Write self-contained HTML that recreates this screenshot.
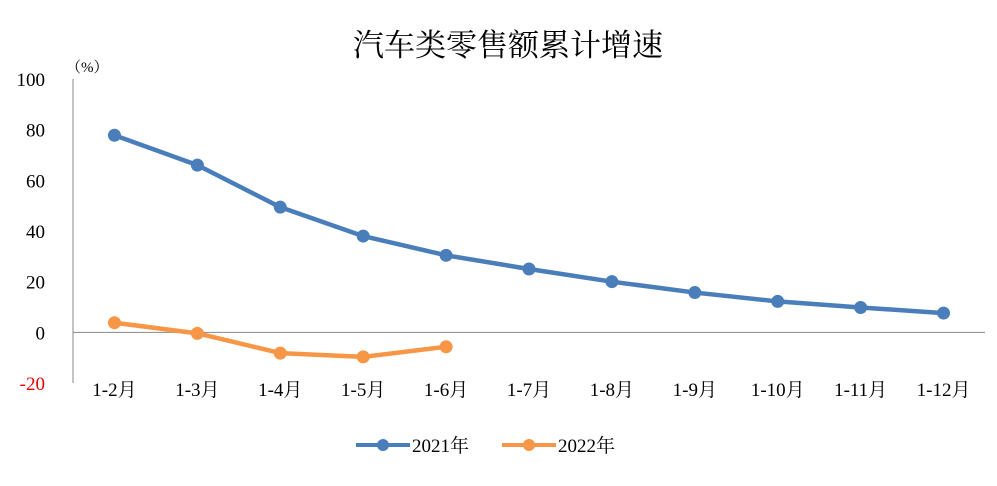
<!DOCTYPE html>
<html><head><meta charset="utf-8"><style>
body{margin:0;background:#fff;}
svg text{font-family:"Liberation Serif","Noto Serif CJK SC",serif;}
</style></head><body>
<svg id="chart" width="997" height="481" xmlns="http://www.w3.org/2000/svg">
<rect width="997" height="481" fill="#fff"/>
<text x="508" y="56" text-anchor="middle" font-size="31" fill="#000">汽车类零售额累计增速</text>
<text x="66" y="72" font-size="15" fill="#000">（%）</text>
<g id="axes"></g>
<g id="series"></g>
<g>
<g>
<line x1="356" y1="445" x2="410" y2="445" stroke="#4a7ebb" stroke-width="4"/>
<circle cx="383" cy="445" r="6" fill="#4a7ebb"/>
<text x="412" y="452" font-size="19">2021年</text></g>
<g>
<line x1="502" y1="445" x2="556" y2="445" stroke="#f79646" stroke-width="4"/>
<circle cx="529" cy="445" r="6" fill="#f79646"/>
<text x="558" y="452" font-size="19">2022年</text></g>
</g>
</svg>
<script>
const categories=["1-2月","1-3月","1-4月","1-5月","1-6月","1-7月","1-8月","1-9月","1-10月","1-11月","1-12月"];
const series2021=[77.8,66.0,49.4,38.0,30.4,25.0,20.0,15.7,12.2,9.8,7.6];
const series2022=[3.8,-0.4,-8.2,-9.7,-5.7];
const yTicks=[100,80,60,40,20,0,-20];
const NS="http://www.w3.org/2000/svg";
const plotLeft=73,plotRight=985,yMin=-20,yMax=100,plotTop=79,plotBottom=383;
function xPos(i){return plotLeft+(plotRight-plotLeft)/categories.length*(i+0.5);}
function yPos(v){return plotBottom-(v-yMin)/(yMax-yMin)*(plotBottom-plotTop);}
function mk(tag,attrs,parent){const e=document.createElementNS(NS,tag);for(const k in attrs)e.setAttribute(k,attrs[k]);parent.appendChild(e);return e;}
const axes=document.getElementById('axes');
const ya=mk('line',{x1:plotLeft,y1:plotTop,x2:plotLeft,y2:plotBottom,stroke:'#888','stroke-width':1},axes);


const xa=mk('line',{x1:plotLeft,y1:yPos(0),x2:plotRight,y2:yPos(0),stroke:'#888','stroke-width':1},axes);


yTicks.forEach(v=>{const t=mk('text',{x:45,y:yPos(v)+7,'text-anchor':'end','font-size':19,fill:v<0?'#e00':'#000'},axes);t.textContent=v;

});
categories.forEach((c,i)=>{const t=mk('text',{x:xPos(i),y:396,'text-anchor':'middle','font-size':19,fill:'#000'},axes);t.textContent=c;

});
const sg=document.getElementById('series');
function draw(data,color,name){
const pts=data.map((v,i)=>xPos(i)+','+yPos(v)).join(' ');
const pl=mk('polyline',{points:pts,fill:'none',stroke:color,'stroke-width':4.5,'stroke-linejoin':'round'},sg);


data.forEach((v,i)=>{const c=mk('circle',{cx:xPos(i),cy:yPos(v),r:6.5,fill:color},sg);

});
}
draw(series2021,'#4a7ebb','series-2021');
draw(series2022,'#f79646','series-2022');
</script>
</body></html>
